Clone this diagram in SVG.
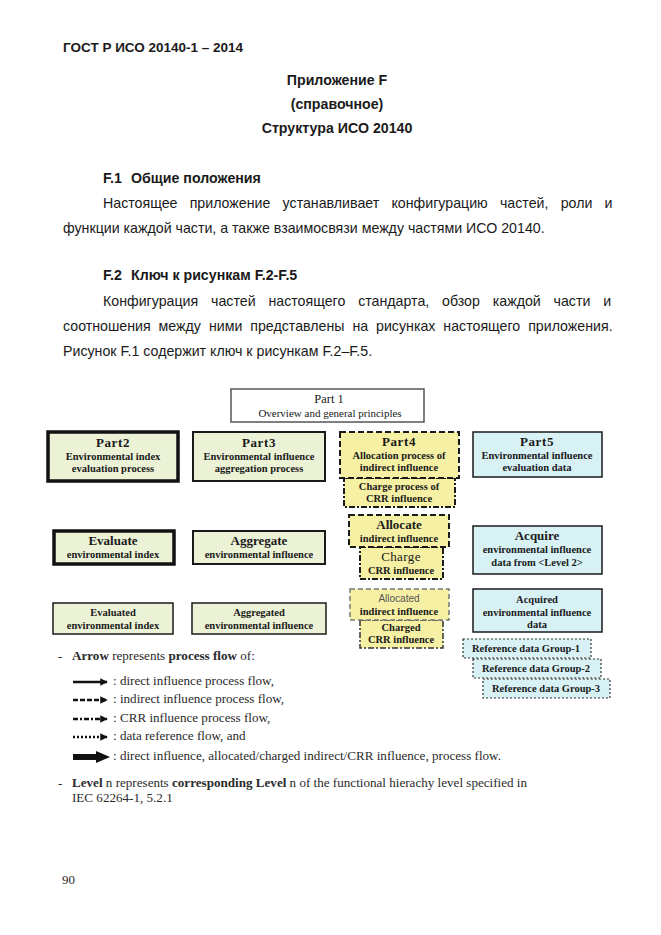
<svg xmlns="http://www.w3.org/2000/svg" width="661" height="935" viewBox="0 0 661 935">
<style>
.ru{font-family:"Liberation Sans",Arial,sans-serif;font-size:14.2px;fill:#1a1a1a}
.rub{font-family:"Liberation Sans",Arial,sans-serif;font-size:14.2px;font-weight:bold;fill:#1a1a1a}
.t{font-family:"Liberation Serif","Times New Roman",serif;fill:#1a1a1a;text-anchor:middle}
.h{font-size:13px;font-weight:bold;letter-spacing:0.6px}
.s{font-size:10.5px;font-weight:bold}
.big{font-size:13px;font-weight:bold}
.lg{font-family:"Liberation Serif","Times New Roman",serif;font-size:13.1px;fill:#2a2a2a}
.g{fill:#ecf2d6}
.y{fill:#f5f0a4}
.c{fill:#d7f1f5}
.b1{stroke:#1a1a1a;stroke-width:1.5}
.b2{stroke:#1a1a1a;stroke-width:2}
.b3{stroke:#111;stroke-width:3.5}
.dash{stroke:#1a1a1a;stroke-width:2;stroke-dasharray:6,3}
.dd{stroke:#1a1a1a;stroke-width:2;stroke-dasharray:6,2,2,2}
.gd{stroke:#777;stroke-width:1.5;stroke-dasharray:5,3}
.gdd{stroke:#333;stroke-width:1.5;stroke-dasharray:6,2,2,2}
.dot{stroke:#333;stroke-width:1.2;stroke-dasharray:2,2}
</style>
<defs>
<marker id="ah" viewBox="0 0 10 10" refX="9" refY="5" markerWidth="3" markerHeight="3" orient="auto" markerUnits="strokeWidth">
<path d="M0,0 L10,5 L0,10 z" fill="#111"/>
</marker>
</defs>
<rect width="661" height="935" fill="#fff"/>

<g id="page-text">
<text x="63" y="52" class="rub" style="font-size:13.5px">ГОСТ Р ИСО 20140-1 – 2014</text>
<text x="337" y="84.5" class="rub" text-anchor="middle">Приложение F</text>
<text x="337" y="108.5" class="rub" text-anchor="middle">(справочное)</text>
<text x="337" y="132.5" class="rub" text-anchor="middle">Структура ИСО 20140</text>
<text x="103" y="183" class="rub">F.1<tspan x="131">Общие положения</tspan></text>
<text x="103" y="208" class="ru" style="word-spacing:8.3px">Настоящее приложение устанавливает конфигурацию частей, роли и</text>
<text x="63" y="233" class="ru">функции каждой части, а также взаимосвязи между частями ИСО 20140.</text>
<text x="103" y="280" class="rub">F.2<tspan x="131">Ключ к рисункам F.2-F.5</tspan></text>
<text x="103" y="306" class="ru" style="word-spacing:8.9px">Конфигурация частей настоящего стандарта, обзор каждой части и</text>
<text x="63" y="331" class="ru" style="word-spacing:4px">соотношения между ними представлены на рисунках настоящего приложения.</text>
<text x="63" y="356" class="ru">Рисунок F.1 содержит ключ к рисункам F.2–F.5.</text>
</g>

<g id="part1">
<rect x="231" y="389" width="193" height="33" fill="#fff" stroke="#555" stroke-width="1.5"/>
<text x="329" y="403" class="t" style="font-size:12.5px">Part 1</text>
<text x="330" y="417" class="t" style="font-size:11px">Overview and general principles</text>
</g>

<g id="part2">
<rect x="48" y="432" width="130" height="49" class="g b3"/>
<text x="113" y="447" class="t h">Part2</text>
<text x="113" y="460" class="t s">Environmental index</text>
<text x="113" y="472" class="t s">evaluation process</text>
</g>

<g id="part3">
<rect x="193" y="432" width="132" height="49" class="g b2"/>
<text x="259" y="447" class="t h">Part3</text>
<text x="259" y="460" class="t s">Environmental influence</text>
<text x="259" y="472" class="t s">aggregation process</text>
</g>

<g id="part4-charge">
<rect x="344" y="478" width="111" height="29" class="y dd"/>
<text x="399" y="490" class="t s">Charge process of</text>
<text x="399" y="502" class="t s">CRR influence</text>
</g>
<g id="part4">
<rect x="340" y="432" width="119" height="46" class="y dash"/>
<text x="399" y="446" class="t h">Part4</text>
<text x="399" y="459" class="t s">Allocation process of</text>
<text x="399" y="471" class="t s">indirect influence</text>
</g>

<g id="part5">
<rect x="473" y="432" width="129" height="45" class="c b1"/>
<text x="537" y="446" class="t h">Part5</text>
<text x="537" y="459" class="t s">Environmental influence</text>
<text x="537" y="471" class="t s">evaluation data</text>
</g>

<g id="evaluate">
<rect x="54" y="531" width="120" height="33" class="g b3"/>
<text x="113" y="545" class="t big">Evaluate</text>
<text x="113" y="558" class="t s">environmental index</text>
</g>

<g id="aggregate">
<rect x="193" y="531" width="132" height="33" class="g b2"/>
<text x="259" y="545" class="t big">Aggregate</text>
<text x="259" y="558" class="t s">environmental influence</text>
</g>

<g id="charge">
<rect x="360" y="547" width="83" height="32" class="y dd"/>
<text x="401" y="561" class="t big" style="font-weight:normal;letter-spacing:0.4px">Charge</text>
<text x="401" y="574" class="t s">CRR influence</text>
</g>
<g id="allocate">
<rect x="349" y="515" width="100" height="32" class="y dash"/>
<text x="399" y="529" class="t big">Allocate</text>
<text x="399" y="542" class="t s">indirect influence</text>
</g>

<g id="acquire">
<rect x="473" y="526" width="129" height="48" class="c b1"/>
<text x="537" y="540" class="t big">Acquire</text>
<text x="537" y="553" class="t s">environmental influence</text>
<text x="537" y="566" class="t s">data from &lt;Level 2&gt;</text>
</g>

<g id="evaluated">
<rect x="53" y="603" width="120" height="31" class="g b1"/>
<text x="113" y="616" class="t s">Evaluated</text>
<text x="113" y="629" class="t s">environmental index</text>
</g>

<g id="aggregated">
<rect x="192" y="603" width="134" height="31" class="g b1"/>
<text x="259" y="616" class="t s">Aggregated</text>
<text x="259" y="629" class="t s">environmental influence</text>
</g>

<g id="charged">
<rect x="360" y="620" width="83" height="28" class="y gdd"/>
<text x="401" y="631" class="t s">Charged</text>
<text x="401" y="643" class="t s">CRR influence</text>
</g>
<g id="allocated">
<rect x="350" y="589" width="99" height="31" class="y gd"/>
<text x="399" y="602" class="t" style="font-family:'Liberation Sans',Arial,sans-serif;font-size:10px;fill:#555">Allocated</text>
<text x="399" y="615" class="t s">indirect influence</text>
</g>

<g id="acquired">
<rect x="473" y="589" width="129" height="43" class="c b1"/>
<text x="537" y="603" class="t s">Acquired</text>
<text x="537" y="616" class="t s">environmental influence</text>
<text x="537" y="628" class="t s">data</text>
</g>

<g id="refgroup1">
<rect x="463" y="639" width="128" height="19" class="c dot"/>
<text x="472" y="652" class="t s" style="text-anchor:start">Reference data Group-1</text>
</g>
<g id="refgroup2">
<rect x="473" y="659" width="128" height="19" class="c dot"/>
<text x="482" y="672" class="t s" style="text-anchor:start">Reference data Group-2</text>
</g>
<g id="refgroup3">
<rect x="483" y="679" width="127" height="19" class="c dot"/>
<text x="492" y="692" class="t s" style="text-anchor:start">Reference data Group-3</text>
</g>

<g id="connectors">
<line x1="73" y1="682" x2="107" y2="682" stroke="#111" stroke-width="2.5" marker-end="url(#ah)"/>
<line x1="73" y1="700" x2="107" y2="700" stroke="#111" stroke-width="2.5" stroke-dasharray="5,2" marker-end="url(#ah)"/>
<line x1="73" y1="719" x2="107" y2="719" stroke="#111" stroke-width="2.5" stroke-dasharray="5,2,2,2" marker-end="url(#ah)"/>
<line x1="73" y1="737" x2="107" y2="737" stroke="#111" stroke-width="2.5" stroke-dasharray="2,2" marker-end="url(#ah)"/>
<path d="M73,754 L96,754 L96,751 L110,757 L96,763 L96,760 L73,760 z" fill="#111"/>
</g>

<g id="legend">
<text x="58" y="660" class="lg">-</text>
<text x="72" y="660" class="lg"><tspan font-weight="bold">Arrow</tspan> represents <tspan font-weight="bold">process flow</tspan> of:</text>
<text x="113" y="685" class="lg">: direct influence process flow,</text>
<text x="113" y="703" class="lg">: indirect influence process flow,</text>
<text x="113" y="722" class="lg">: CRR influence process flow,</text>
<text x="113" y="740" class="lg">: data reference flow, and</text>
<text x="113" y="760" class="lg">: direct influence, allocated/charged indirect/CRR influence, process flow.</text>
<text x="58" y="787" class="lg">-</text>
<text x="72" y="787" class="lg"><tspan font-weight="bold">Level</tspan> n represents <tspan font-weight="bold">corresponding Level</tspan> n of the functional hierachy level specified in</text>
<text x="72" y="802" class="lg">IEC 62264-1, 5.2.1</text>
<text x="62" y="884" class="lg" style="font-size:13px">90</text>
</g>
</svg>
